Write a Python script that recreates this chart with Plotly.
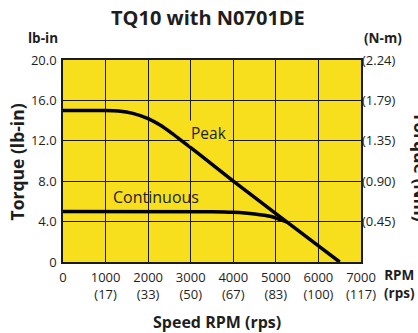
import plotly.graph_objects as go

# Data
peak_rpm = [0, 1000, 1300, 1640, 2000, 2280, 2560, 2790, 3220, 4000, 5000, 6000, 6500]
peak_torque = [15.0, 15.0, 14.95, 14.72, 14.2, 13.56, 12.74, 12.0, 10.6, 8.0, 4.8, 1.6, 0.0]
cont_rpm = [0, 3500, 4000, 4500, 4890, 5120, 5250]
cont_torque = [5.0, 4.98, 4.92, 4.75, 4.5, 4.17, 3.98]
x_ticks = [0, 1000, 2000, 3000, 4000, 5000, 6000, 7000]
x_labels = ["0", "1000<br>(17)", "2000<br>(33)", "3000<br>(50)", "4000<br>(67)",
            "5000<br>(83)", "6000<br>(100)", "7000<br>(117)"]
y_ticks = [0, 4, 8, 12, 16, 20]
y_labels = ["0", "4.0", "8.0", "12.0", "16.0", "20.0"]
y2_labels = ["", "(0.45)", "(0.90)", "(1.35)", "(1.79)", "(2.24)"]

FONT = "Open Sans, sans-serif"
TXT = "#1e1e1e"
BG = "#F7DF1E"
W, H = 418, 333
L, T = 63, 60
R = W - 361
B = H - 262

fig = go.Figure()
fig.add_trace(go.Scatter(x=peak_rpm, y=peak_torque, mode="lines",
                         line=dict(color="black", width=3.5, shape="spline", smoothing=0.4),
                         showlegend=False, hoverinfo="skip"))
fig.add_trace(go.Scatter(x=cont_rpm, y=cont_torque, mode="lines",
                         line=dict(color="black", width=3.5, shape="spline", smoothing=0.4),
                         showlegend=False, hoverinfo="skip"))
fig.add_trace(go.Scatter(x=[0], y=[0], yaxis="y2", mode="markers", marker=dict(opacity=0),
                         showlegend=False, hoverinfo="skip"))

axis_common = dict(showgrid=True, gridcolor="#1a1a1a", gridwidth=1, zeroline=False,
                   showline=True, linecolor="#1a1a1a", linewidth=1.5, mirror=True,
                   ticks="", automargin=False, tickfont=dict(size=13, color=TXT))

fig.update_layout(
    width=W, height=H,
    margin=dict(l=L, r=R, t=T, b=B, autoexpand=False),
    paper_bgcolor="white", plot_bgcolor=BG,
    font=dict(family=FONT, size=13, color=TXT),
    xaxis=dict(range=[0, 7000], tickvals=x_ticks, ticktext=x_labels, ticklabelstandoff=3, **axis_common),
    yaxis=dict(range=[0, 20], tickvals=y_ticks, ticktext=y_labels, ticklabelstandoff=2, **axis_common),
    yaxis2=dict(range=[0, 20], overlaying="y", side="right", tickvals=y_ticks, ticktext=y2_labels,
                showgrid=False, zeroline=False, showline=False, ticks="", automargin=False,
                tickfont=dict(size=13, color=TXT)),
)

pw, ph = W - L - R, H - T - B

def px(x, y):
    # x, y are page pixel positions in the 418x333 window
    return dict(xref="paper", yref="paper", x=(x - L) / pw, y=(H - B - y) / ph,
                xanchor="center", yanchor="middle", showarrow=False)

anns = [
    dict(text="Peak", x=3430, y=12.8, xref="x", yref="y", showarrow=False, bgcolor=BG,
         borderpad=1, font=dict(size=15.5, color=TXT)),
    dict(text="Continuous", x=2180, y=6.4, xref="x", yref="y", showarrow=False,
         font=dict(size=16, color=TXT)),
    dict(text="<b>TQ10 with N0701DE</b>", font=dict(size=20), **px(208, 17)),
    dict(text="<b>lb-in</b>", font=dict(size=13.5), **px(43, 38)),
    dict(text="<b>(N-m)</b>", font=dict(size=13.5), **px(383, 38)),
    dict(text="<b>RPM<br>(rps)</b>", font=dict(size=13.5), **px(399, 284)),
    dict(text="<b>Speed RPM (rps)</b>", font=dict(size=16), **px(217, 322)),
    dict(text="<b>Torque (lb-in)</b>", textangle=-90, font=dict(size=17.5), **px(16.5, 162)),
    dict(text="<b>Torque (Nm)</b>", textangle=90, font=dict(size=17.5), **px(421, 167)),
]
fig.update_layout(annotations=anns)
fig.write_html("out.html", config={"displayModeBar": False},
               post_script="document.body.style.margin='0';document.body.style.overflow='hidden';")
